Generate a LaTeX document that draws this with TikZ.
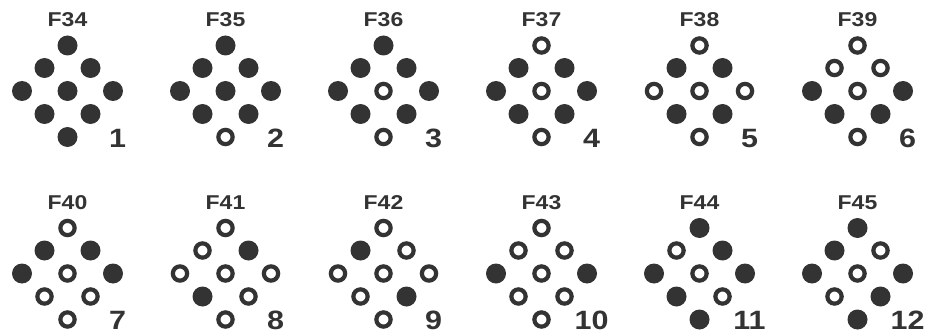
\documentclass[tikz,border=0pt]{standalone}
\usepackage{fontspec}
\setmainfont{Liberation Sans}
\newfontfamily\labfont[FakeStretch=1.15]{Liberation Sans}
\definecolor{ink}{HTML}{333333}
\newcommand\dmdid{}
\newcommand\dmd[9]{%
  \node[#1] (\dmdid-T)  at (0,-45.5) {};
  \node[#2] (\dmdid-UL) at (-23,-23) {};
  \node[#3] (\dmdid-UR) at (23,-23) {};
  \node[#4] (\dmdid-L)  at (-45.5,0) {};
  \node[#5] (\dmdid-C)  at (0,0) {};
  \node[#6] (\dmdid-R)  at (45.5,0) {};
  \node[#7] (\dmdid-LL) at (-23,23) {};
  \node[#8] (\dmdid-LR) at (23,23) {};
  \node[#9] (\dmdid-B)  at (0,46) {};}
\newcommand\hdr[2]{%
  \renewcommand\dmdid{F#1}%
  \node[title] (F#1-title) at (0,-64) {F#1};
  \node[num] (F#1-num) at (50,56) {#2};}
\begin{document}
\begin{tikzpicture}[x=1pt,y=-1pt,
  fd/.style={circle,fill=ink,minimum size=20pt,inner sep=0pt},
  od/.style={circle,draw=ink,line width=4.2pt,minimum size=14.3pt,inner sep=0pt},
  title/.style={font=\labfont\bfseries\fontsize{20}{21}\selectfont,text=ink,anchor=base,inner sep=0pt},
  num/.style={font=\labfont\bfseries\fontsize{26.5}{27}\selectfont,text=ink,anchor=base,inner sep=0pt}]
\useasboundingbox[fill=white] (0,0) rectangle (931,334);
% row 1
\begin{scope}[shift={(67.5,91)}]\hdr{34}{1}\dmd{fd}{fd}{fd}{fd}{fd}{fd}{fd}{fd}{fd}\end{scope}
\begin{scope}[shift={(225.5,91)}]\hdr{35}{2}\dmd{fd}{fd}{fd}{fd}{fd}{fd}{fd}{fd}{od}\end{scope}
\begin{scope}[shift={(383.5,91)}]\hdr{36}{3}\dmd{fd}{fd}{fd}{fd}{od}{fd}{fd}{fd}{od}\end{scope}
\begin{scope}[shift={(541.5,91)}]\hdr{37}{4}\dmd{od}{fd}{fd}{fd}{od}{fd}{fd}{fd}{od}\end{scope}
\begin{scope}[shift={(699.5,91)}]\hdr{38}{5}\dmd{od}{fd}{fd}{od}{od}{od}{fd}{fd}{od}\end{scope}
\begin{scope}[shift={(857.5,91)}]\hdr{39}{6}\dmd{od}{od}{od}{fd}{od}{fd}{fd}{fd}{od}\end{scope}
% row 2
\begin{scope}[shift={(67.5,273.5)}]\hdr{40}{7}\dmd{od}{fd}{fd}{fd}{od}{fd}{od}{od}{od}\end{scope}
\begin{scope}[shift={(225.5,273.5)}]\hdr{41}{8}\dmd{od}{od}{fd}{od}{od}{od}{fd}{od}{od}\end{scope}
\begin{scope}[shift={(383.5,273.5)}]\hdr{42}{9}\dmd{od}{fd}{od}{od}{od}{od}{od}{fd}{od}\end{scope}
\begin{scope}[shift={(541.5,273.5)}]\hdr{43}{10}\dmd{od}{od}{od}{fd}{od}{fd}{od}{od}{od}\end{scope}
\begin{scope}[shift={(699.5,273.5)}]\hdr{44}{11}\dmd{fd}{od}{fd}{fd}{od}{fd}{fd}{od}{fd}\end{scope}
\begin{scope}[shift={(857.5,273.5)}]\hdr{45}{12}\dmd{fd}{fd}{od}{fd}{od}{fd}{od}{fd}{fd}\end{scope}
\end{tikzpicture}
\end{document}
